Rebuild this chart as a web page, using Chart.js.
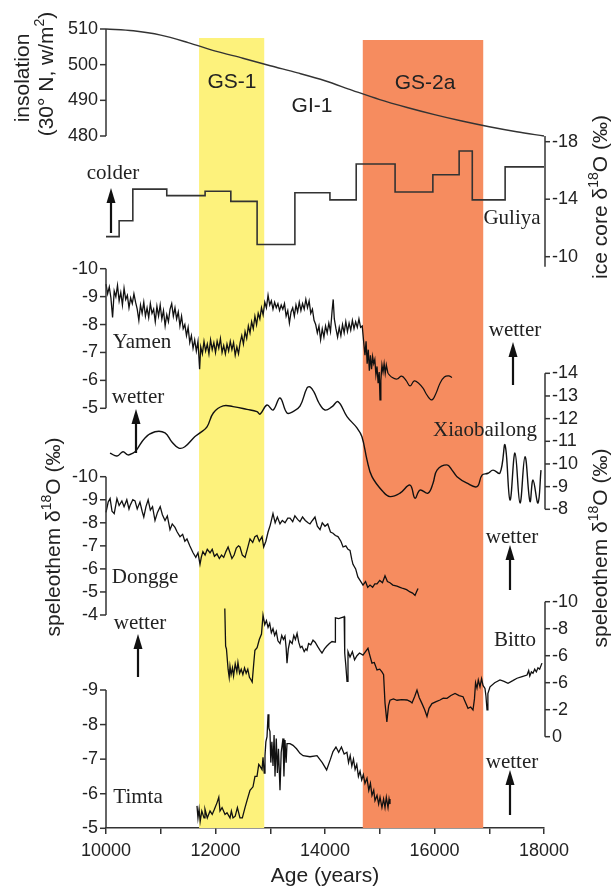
<!DOCTYPE html>
<html><head><meta charset="utf-8">
<script src="https://cdn.jsdelivr.net/npm/chart.js@4.4.1/dist/chart.umd.min.js"></script>
<style>html,body{margin:0;padding:0;background:#fff;overflow:hidden}canvas{display:block}</style>
</head><body>
<canvas id="c" width="616" height="888"></canvas>
<script>
// ---------------- DATA ----------------
const xMin = 10000, xMax = 18000;
const bandNames = ['GS-1', 'GS-2a'];
const bandStarts = [11700, 14690];
const bandEnds = [12890, 16890];

const insolationYears = [10000,10500,11000,11500,12000,12500,13000,13500,14000,14500,15000,15500,16000,16500,17000,17500,18000];
const insolationValues = [510,509.5,508.3,506.2,503.8,501.8,499.7,497.7,495.5,492.8,490.2,488.0,486.0,484.2,482.6,481.2,480.0];
const insolationTicks = [510,500,490,480];

const guliyaYears = [10000,10240,10490,11110,11810,12280,12760,13450,14090,14570,15280,15970,16450,16690,17290,18000];
const guliyaValues = [-11.4,-12.5,-14.7,-14.25,-14.55,-13.85,-10.85,-14.45,-13.95,-16.45,-14.5,-15.7,-17.35,-13.95,-16.25,-16.25];
const guliyaTicks = [-18,-14,-10];

const yamenYears = [10000,10030,10060,10090,10120,10150,10180,10210,10240,10270,10300,10330,10360,10390,10420,10450,10480,10510,10540,10570,10600,10630,10660,10690,10720,10750,10780,10810,10840,10870,10900,10930,10960,10990,11020,11050,11080,11110,11140,11170,11200,11230,11260,11290,11320,11350,11380,11410,11440,11470,11500,11530,11560,11590,11620,11650,11680,11710,11730,11760,11790,11820,11850,11880,11910,11940,11970,12000,12030,12060,12090,12120,12150,12180,12210,12240,12270,12300,12330,12360,12390,12420,12450,12480,12510,12540,12570,12600,12630,12660,12690,12720,12750,12780,12810,12840,12870,12900,12930,12960,12990,13020,13050,13080,13110,13140,13170,13200,13230,13260,13290,13320,13350,13380,13410,13440,13470,13500,13530,13560,13590,13620,13650,13680,13710,13740,13770,13800,13830,13860,13890,13920,13950,13980,14010,14040,14070,14100,14130,14150,14170,14200,14230,14260,14290,14320,14350,14380,14410,14440,14470,14500,14530,14560,14590,14620,14650,14680,14710,14730,14750,14770,14790,14810,14830,14850,14870,14890,14910,14930,14950,14970,14990,15005,15020,15040,15060,15080,15100,15120,15150];
const yamenValues = [-9.45,-9.1,-9.35,-8.95,-8.25,-9.2,-9.0,-9.4,-8.85,-9.15,-8.7,-9.3,-8.9,-9.05,-8.6,-8.95,-8.75,-9.1,-8.8,-8.55,-8.15,-8.7,-8.4,-8.8,-8.3,-8.6,-8.25,-8.75,-8.4,-8.55,-8.1,-8.65,-8.3,-8.7,-8.2,-8.5,-7.95,-8.35,-8.1,-8.55,-8.75,-8.3,-8.6,-8.2,-8.45,-7.95,-8.3,-7.85,-8.0,-7.6,-7.9,-7.35,-7.6,-7.15,-7.45,-7.05,-7.4,-6.4,-7.2,-6.95,-7.4,-7.05,-7.3,-6.95,-7.45,-7.1,-7.35,-7.0,-7.4,-7.15,-7.5,-7.0,-7.25,-6.95,-7.3,-7.05,-7.4,-7.1,-7.35,-6.9,-7.2,-6.95,-7.35,-7.6,-7.3,-7.75,-7.5,-7.95,-7.7,-8.1,-7.85,-8.3,-8.0,-8.4,-8.2,-8.6,-8.35,-8.8,-8.6,-9.05,-8.7,-8.85,-8.55,-8.8,-8.6,-8.75,-8.5,-8.7,-8.55,-8.75,-8.3,-8.5,-8.05,-8.45,-8.6,-8.3,-8.7,-8.45,-8.8,-8.5,-8.75,-8.55,-8.9,-8.6,-8.85,-8.4,-8.55,-8.15,-8.0,-7.7,-7.95,-7.45,-7.85,-7.55,-7.95,-7.7,-8.05,-7.75,-8.5,-8.9,-8.2,-7.85,-7.55,-7.9,-7.6,-8.0,-7.7,-8.1,-7.75,-8.05,-7.8,-8.15,-7.85,-8.1,-7.9,-8.2,-7.9,-7.95,-7.3,-6.9,-7.4,-6.6,-7.1,-6.35,-6.9,-6.4,-6.85,-6.6,-6.75,-6.2,-6.5,-5.9,-6.3,-5.3,-6.0,-6.55,-6.3,-6.6,-6.25,-6.55,-6.25];
const yamenTailYears = [15150,15230,15315,15400,15480,15553,15630,15710,15790,15870,15954,16030,16101,16180,16260,16320];
const yamenTailValues = [-6.25,-6.1,-6.05,-6.15,-6.0,-5.8,-5.98,-5.9,-5.72,-5.45,-5.3,-5.55,-5.9,-6.12,-6.16,-6.1];
const yamenTicks = [-10,-9,-8,-7,-6,-5];

const xiaobailongYears = [10073,10201,10310,10400,10493,10550,10712,10895,11078,11200,11330,11440,11620,11717,11845,11960,12140,12320,12575,12758,12813,12941,13050,13178,13306,13416,13543,13671,13726,13800,13890,14000,14130,14237,14402,14584,14675,14767,14858,15059,15187,15370,15553,15644,15735,15881,15973,16046,16228,16320,16411,16594,16776,16868,16977,17069,17196,17288,17379,17470,17562,17653,17744,17799,17890,17945];
const xiaobailongValues = [-10.48,-10.35,-10.54,-10.4,-10.48,-10.59,-11.15,-11.42,-11.37,-10.98,-10.7,-10.76,-11.2,-11.37,-11.64,-12.25,-12.56,-12.53,-12.41,-12.31,-12.2,-12.6,-12.38,-12.91,-12.25,-12.31,-12.55,-13.35,-13.4,-13.17,-12.69,-12.38,-12.53,-12.75,-12.09,-11.59,-11.2,-10.18,-9.44,-8.78,-8.56,-8.71,-9.07,-8.49,-8.85,-8.71,-9.15,-9.73,-9.96,-9.73,-9.44,-9.15,-9.0,-9.51,-9.59,-9.73,-9.6,-10.84,-8.41,-10.48,-8.28,-10.32,-8.34,-9.29,-8.28,-9.73];
const xiaobailongTicks = [-14,-13,-12,-11,-10,-9,-8];

const donggeYears = [10000,10040,10075,10110,10150,10200,10240,10290,10330,10380,10420,10440,10490,10530,10570,10620,10660,10690,10730,10770,10810,10850,10895,10940,10990,11030,11078,11120,11169,11210,11260,11300,11352,11400,11440,11479,11530,11590,11640,11680,11717,11740,11770,11810,11850,11900,11940,11980,12027,12070,12110,12150,12190,12230,12265,12300,12340,12380,12420,12447,12490,12540,12580,12630,12680,12720,12758,12800,12850,12880,12920,12960,13000,13050,13090,13130,13178,13220,13270,13320,13361,13410,13450,13500,13543,13590,13640,13690,13726,13770,13817,13860,13909,13950,14000,14050,14100,14146,14190,14237,14290,14330,14380,14420,14457,14490,14511,14560,14600,14640,14694,14740,14780,14822,14870,14910,14950,15000,15050,15096,15140,15187,15240,15315,15370,15425,15490,15553,15600,15644,15670,15699];
const donggeValues = [-8.45,-8.9,-9.05,-8.5,-8.4,-9.05,-8.75,-8.95,-8.7,-9.0,-8.6,-8.75,-9.0,-8.95,-8.6,-8.9,-8.5,-8.25,-8.7,-9.0,-8.55,-8.7,-8.1,-8.45,-8.7,-8.35,-8.1,-8.3,-7.7,-7.95,-7.8,-7.6,-7.4,-7.5,-7.2,-7.3,-7.0,-6.7,-6.5,-6.7,-6.2,-6.5,-6.75,-6.6,-6.85,-6.7,-6.85,-6.55,-6.65,-6.45,-6.6,-6.5,-6.75,-6.95,-6.7,-6.45,-6.6,-6.9,-7.0,-6.95,-6.6,-6.5,-6.85,-7.3,-7.15,-7.4,-7.45,-7.2,-7.4,-6.95,-7.2,-7.6,-7.9,-8.4,-8.0,-8.25,-7.95,-8.1,-8.0,-8.2,-8.2,-8.05,-8.3,-8.15,-8.05,-8.25,-8.1,-8.0,-7.95,-8.1,-8.25,-7.85,-7.7,-8.0,-7.85,-7.95,-7.6,-7.55,-7.45,-7.4,-7.2,-6.95,-7.0,-6.85,-6.8,-6.4,-6.2,-6.0,-5.65,-5.5,-5.3,-5.45,-5.2,-5.3,-5.2,-5.35,-5.35,-5.5,-5.4,-5.7,-5.45,-5.4,-5.3,-5.25,-5.2,-5.15,-5.1,-5.0,-4.95,-4.85,-5.0,-5.15];
const donggeTicks = [-10,-9,-8,-7,-6,-5,-4];

const bittoYears = [12170,12185,12200,12230,12250,12265,12285,12310,12330,12360,12390,12410,12440,12470,12500,12530,12560,12590,12620,12650,12670,12700,12720,12760,12800,12840,12868,12900,12930,12960,12990,13020,13050,13080,13110,13140,13178,13210,13240,13269,13290,13306,13330,13360,13400,13430,13460,13490,13520,13550,13580,13620,13650,13671,13700,13740,13781,13820,13870,13910,13945,13990,14030,14080,14128,14183,14190,14250,14330,14350,14360,14380,14402,14420,14457,14500,14540,14584,14630,14694,14740,14785,14820,14858,14900,14950,15000,15040,15070,15096,15130,15160,15187,15250,15315,15400,15498,15560,15589,15640,15680,15720,15772,15820,15863,15900,15954,16030,16101,16160,16228,16300,16375,16450,16521,16570,16612,16660,16703,16730,16750,16776,16800,16831,16860,16886,16922,16940,16959,16975,17014,17100,17196,17270,17343,17430,17507,17600,17690,17720,17740,17770,17799,17830,17860,17890,17920,17963];
const bittoValues = [-9.5,-6.7,-6.5,-5.0,-4.4,-5.2,-4.6,-5.1,-4.5,-5.4,-4.8,-5.5,-4.7,-5.0,-4.6,-5.1,-4.7,-5.0,-4.4,-4.2,-4.05,-5.5,-6.4,-6.6,-7.2,-7.6,-9.0,-8.3,-8.6,-8.1,-8.4,-7.7,-8.0,-7.5,-7.8,-7.1,-6.9,-7.5,-7.2,-7.45,-6.6,-5.45,-6.5,-7.1,-6.9,-7.5,-7.2,-7.65,-7.0,-6.6,-6.7,-6.3,-6.5,-6.4,-6.9,-6.8,-7.15,-7.0,-6.65,-6.4,-6.2,-6.5,-6.7,-6.9,-7.05,-7.0,-8.8,-8.75,-8.85,-8.9,-6.2,-5.3,-4.1,-6.3,-5.9,-6.3,-5.7,-6.0,-6.2,-6.05,-6.3,-6.55,-6.0,-5.45,-5.5,-4.95,-5.0,-4.8,-4.6,-2.5,-1.1,-2.3,-2.7,-2.8,-2.7,-2.75,-2.72,-2.6,-2.5,-3.0,-3.45,-2.9,-2.45,-2.0,-1.5,-2.1,-2.45,-2.6,-2.72,-2.85,-2.84,-3.05,-3.2,-3.05,-2.96,-2.5,-2.1,-2.2,-1.98,-2.8,-4.0,-3.6,-4.2,-3.7,-4.3,-3.8,-3.58,-3.0,-1.98,-3.2,-3.7,-4.0,-4.2,-4.1,-3.96,-4.15,-4.33,-4.45,-4.57,-4.9,-4.5,-4.8,-4.7,-5.0,-4.8,-5.1,-5.0,-5.45];
const bittoTickValues = [-10,-8,-6,-4,-2,0];
const bittoTickLabels = ['-10','-8','-6','-6','-2','0'];

const timtaYears = [11662,11680,11700,11720,11750,11790,11808,11850,11900,11940,11980,12030,12060,12082,12120,12174,12210,12265,12290,12320,12360,12400,12447,12490,12539,12575,12630,12685,12721,12758,12790,12813,12850,12868,12890,12904,12920,12941,12960,12975,12995,13010,13030,13050,13070,13087,13110,13130,13150,13178,13200,13233,13250,13269,13290,13306,13360,13416,13480,13543,13600,13726,13854,13950,14030,14100,14146,14200,14250,14300,14350,14400,14430,14460,14490,14520,14550,14580,14610,14640,14670,14700,14730,14767,14800,14830,14858,14890,14913,14950,14980,15005,15040,15070,15096,15120,15151,15170,15187];
const timtaValues = [-5.65,-5.3,-5.55,-5.2,-5.5,-5.3,-5.55,-5.3,-5.5,-5.4,-5.55,-5.75,-5.9,-5.5,-5.6,-5.4,-5.45,-5.3,-5.5,-5.3,-5.35,-5.6,-5.3,-5.3,-5.6,-5.8,-6.1,-6.2,-6.5,-6.5,-6.85,-6.8,-6.7,-7.05,-6.6,-7.1,-7.5,-7.65,-8.3,-7.9,-7.8,-6.9,-7.5,-6.8,-7.7,-6.5,-7.6,-6.6,-7.3,-6.1,-7.2,-7.6,-6.5,-7.55,-6.9,-7.45,-7.45,-7.4,-7.3,-7.17,-7.1,-7.07,-7.1,-6.9,-6.69,-7.0,-7.22,-7.35,-7.2,-7.35,-7.15,-7.2,-6.9,-7.1,-6.8,-7.0,-6.7,-6.85,-6.5,-6.65,-6.4,-6.55,-6.3,-6.45,-6.1,-6.3,-5.95,-6.1,-5.8,-5.95,-5.7,-5.9,-5.6,-5.85,-5.6,-5.9,-5.6,-5.85,-5.7];
const timtaTicks = [-9,-8,-7,-6,-5];

// ---------------- LAYOUT (pixel anchors for axis placement) ----------------
const AREA_TOP = 0, AREA_BOTTOM = 828;
function scaleFor(v1, p1, v2, p2) {
  const b = (p2 - p1) / (v2 - v1), a = p1 - b * v1;
  const lo = (AREA_TOP - a) / b, hi = (AREA_BOTTOM - a) / b;
  return b < 0 ? {min: hi, max: lo, reverse: false} : {min: lo, max: hi, reverse: true};
}
const yLayout = {
  yIns: scaleFor(510, 29, 480, 136),
  yGul: scaleFor(-18, 141.7, -10, 256.7),
  yYam: scaleFor(-10, 268.7, -5, 408.3),
  yXia: scaleFor(-14, 373.3, -8, 509.3),
  yDon: scaleFor(-10, 476.7, -4, 615),
  yBit: scaleFor(-10, 601.7, 0, 736.7),
  yTim: scaleFor(-9, 690, -5, 828.3)
};
const axesSpec = [
  {id: 'yIns', side: 'left', ticks: insolationTicks, extent: [510, 480]},
  {id: 'yGul', side: 'right', ticks: guliyaTicks, extent: [-18.4, -9.3]},
  {id: 'yYam', side: 'left', ticks: yamenTicks, extent: [-10, -5]},
  {id: 'yXia', side: 'right', ticks: xiaobailongTicks, extent: [-14, -8]},
  {id: 'yDon', side: 'left', ticks: donggeTicks, extent: [-10, -4]},
  {id: 'yBit', side: 'right', ticks: bittoTickValues, labels: bittoTickLabels, extent: [-10, 0]},
  {id: 'yTim', side: 'left', ticks: timtaTicks, extent: [-9, -5]}
];

const SANS = '"Liberation Sans", Arial, sans-serif';
const SERIF = '"Liberation Serif", "Times New Roman", serif';
const INK = '#222';

function pts(xs, ys) { return xs.map((x, i) => ({x: x, y: ys[i]})); }
function ds(label, xs, ys, axis, extra) {
  return Object.assign({label: label, data: pts(xs, ys), yAxisID: axis, borderColor: '#111', borderWidth: 1.2,
    pointRadius: 0, tension: 0, fill: false, clip: false}, extra || {});
}

const datasets = [
  ds('Insolation', insolationYears, insolationValues, 'yIns', {borderColor: '#333', borderWidth: 1.4, tension: 0.4, cubicInterpolationMode: 'monotone'}),
  ds('Guliya', guliyaYears, guliyaValues, 'yGul', {borderColor: '#333', borderWidth: 1.6, stepped: 'before'}),
  ds('Yamen', yamenYears, yamenValues, 'yYam', {borderWidth: 1.3}),
  ds('Yamen tail', yamenTailYears, yamenTailValues, 'yYam', {tension: 0.4}),
  ds('Xiaobailong', xiaobailongYears, xiaobailongValues, 'yXia', {tension: 0.4, borderWidth: 1.4}),
  ds('Dongge', donggeYears, donggeValues, 'yDon', {borderWidth: 1.3}),
  ds('Bitto', bittoYears, bittoValues, 'yBit', {borderWidth: 1.3}),
  ds('Timta', timtaYears, timtaValues, 'yTim', {borderWidth: 1.3})
];

const yScales = {};
Object.keys(yLayout).forEach(k => {
  yScales[k] = Object.assign({type: 'linear', display: false, position: 'left'}, yLayout[k]);
});

function richRotated(ctx, cx, cy, segs, angle) {
  ctx.save();
  ctx.translate(cx, cy);
  ctx.rotate(angle);
  let total = 0;
  segs.forEach(s => { ctx.font = s.size + 'px ' + SANS; s.w = ctx.measureText(s.t).width; total += s.w; });
  let x = -total / 2;
  ctx.textBaseline = 'middle';
  ctx.textAlign = 'left';
  ctx.fillStyle = INK;
  segs.forEach(s => { ctx.font = s.size + 'px ' + SANS; ctx.fillText(s.t, x, -(s.rise || 0)); x += s.w; });
  ctx.restore();
}
function arrow(ctx, x, yb, yt) {
  ctx.save();
  ctx.strokeStyle = '#111'; ctx.fillStyle = '#111'; ctx.lineWidth = 2.2;
  ctx.beginPath(); ctx.moveTo(x, yb); ctx.lineTo(x, yt + 10); ctx.stroke();
  ctx.beginPath(); ctx.moveTo(x, yt); ctx.lineTo(x - 4.5, yt + 15); ctx.lineTo(x + 4.5, yt + 15); ctx.closePath(); ctx.fill();
  ctx.restore();
}

const decor = {
  id: 'decor',
  beforeDatasetsDraw(chart) {
    const ctx = chart.ctx, xs = chart.scales.x;
    const colors = ['#fdf27c', '#f68c5f'];
    const tops = [38, 40];
    ctx.save();
    bandNames.forEach((n, i) => {
      const x1 = xs.getPixelForValue(bandStarts[i]), x2 = xs.getPixelForValue(bandEnds[i]);
      ctx.fillStyle = colors[i];
      ctx.fillRect(x1, tops[i], x2 - x1, chart.chartArea.bottom - tops[i]);
    });
    ctx.restore();
  },
  afterDraw(chart) {
    const ctx = chart.ctx, xs = chart.scales.x;
    ctx.save();
    // band labels
    ctx.fillStyle = INK; ctx.font = '21px ' + SANS; ctx.textAlign = 'center'; ctx.textBaseline = 'middle';
    ctx.fillText(bandNames[0], 232, 82);
    ctx.fillText('GI-1', 312, 106);
    ctx.fillText(bandNames[1], 425, 83);
    // y axes
    axesSpec.forEach(ax => {
      const s = chart.scales[ax.id];
      const x = xs.getPixelForValue(ax.side === 'left' ? xMin : xMax) + (ax.side === 'right' ? 1 : 0);
      ctx.strokeStyle = '#333'; ctx.lineWidth = 1.5;
      ctx.beginPath();
      ctx.moveTo(x, s.getPixelForValue(ax.extent[0]));
      ctx.lineTo(x, s.getPixelForValue(ax.extent[1]));
      ctx.stroke();
      ctx.font = '18px ' + SANS; ctx.fillStyle = INK; ctx.textBaseline = 'middle';
      ax.ticks.forEach((v, i) => {
        const y = s.getPixelForValue(v);
        const lab = ax.labels ? ax.labels[i] : String(v);
        ctx.beginPath();
        if (ax.side === 'left') { ctx.moveTo(x - 6, y); ctx.lineTo(x, y); }
        else { ctx.moveTo(x, y); ctx.lineTo(x + 5, y); }
        ctx.stroke();
        ctx.textAlign = ax.side === 'left' ? 'right' : 'left';
        ctx.fillText(lab, ax.side === 'left' ? x - 8 : x + 7, y);
      });
    });
    // annotations
    ctx.font = '21px ' + SERIF; ctx.fillStyle = INK; ctx.textAlign = 'center'; ctx.textBaseline = 'middle';
    [['colder', 113, 173], ['Guliya', 512, 218], ['Yamen', 142, 342], ['wetter', 138, 397], ['wetter', 515, 330],
     ['Xiaobailong', 485, 430], ['Dongge', 145, 577], ['wetter', 512, 537], ['wetter', 140, 623], ['Bitto', 515, 640],
     ['Timta', 138, 797], ['wetter', 512, 762]].forEach(a => ctx.fillText(a[0], a[1], a[2]));
    arrow(ctx, 111, 233, 188);
    arrow(ctx, 136, 453, 409);
    arrow(ctx, 513, 385, 342);
    arrow(ctx, 510, 590, 545);
    arrow(ctx, 138, 677, 634);
    arrow(ctx, 510, 815, 770);
    ctx.restore();
    // titles
    const R = -Math.PI / 2;
    richRotated(ctx, 23, 78, [{t: 'insolation', size: 21}], R);
    richRotated(ctx, 47, 74, [{t: '(30\u00b0 N, w/m', size: 21}, {t: '2', size: 14, rise: 7}, {t: ')', size: 21}], R);
    richRotated(ctx, 601, 197, [{t: 'ice core \u03b4', size: 21}, {t: '18', size: 14, rise: 7}, {t: 'O (\u2030)', size: 21}], R);
    richRotated(ctx, 54, 537, [{t: 'speleothem \u03b4', size: 21}, {t: '18', size: 14, rise: 7}, {t: 'O (\u2030)', size: 21}], R);
    richRotated(ctx, 601, 548, [{t: 'speleothem \u03b4', size: 21}, {t: '18', size: 14, rise: 7}, {t: 'O (\u2030)', size: 21}], R);
  }
};

new Chart(document.getElementById('c'), {
  type: 'line',
  data: {datasets: datasets},
  options: {
    responsive: false, maintainAspectRatio: false, animation: false, devicePixelRatio: 1, events: [],
    layout: {padding: {left: 106, right: 72, top: 0, bottom: 0}},
    plugins: {legend: {display: false}, tooltip: {enabled: false}, title: {display: false}},
    scales: Object.assign({
      x: {
        type: 'linear', position: 'bottom', min: xMin, max: xMax,
        ticks: {stepSize: 1000, autoSkip: false, maxRotation: 0, color: INK, padding: 6,
          font: {family: SANS, size: 18},
          callback: v => (v % 2000 === 0 ? String(v) : '')},
        grid: {drawOnChartArea: false, drawTicks: true, tickLength: 6, color: '#333', lineWidth: 1.5},
        border: {display: true, color: '#333', width: 1.5},
        title: {display: true, text: 'Age (years)', color: INK, font: {family: SANS, size: 21, lineHeight: 1.0}, padding: {top: 0, bottom: 1}},
        afterFit: s => { s.height = 60; }
      }
    }, yScales)
  },
  plugins: [decor]
});
</script>
</body></html>
